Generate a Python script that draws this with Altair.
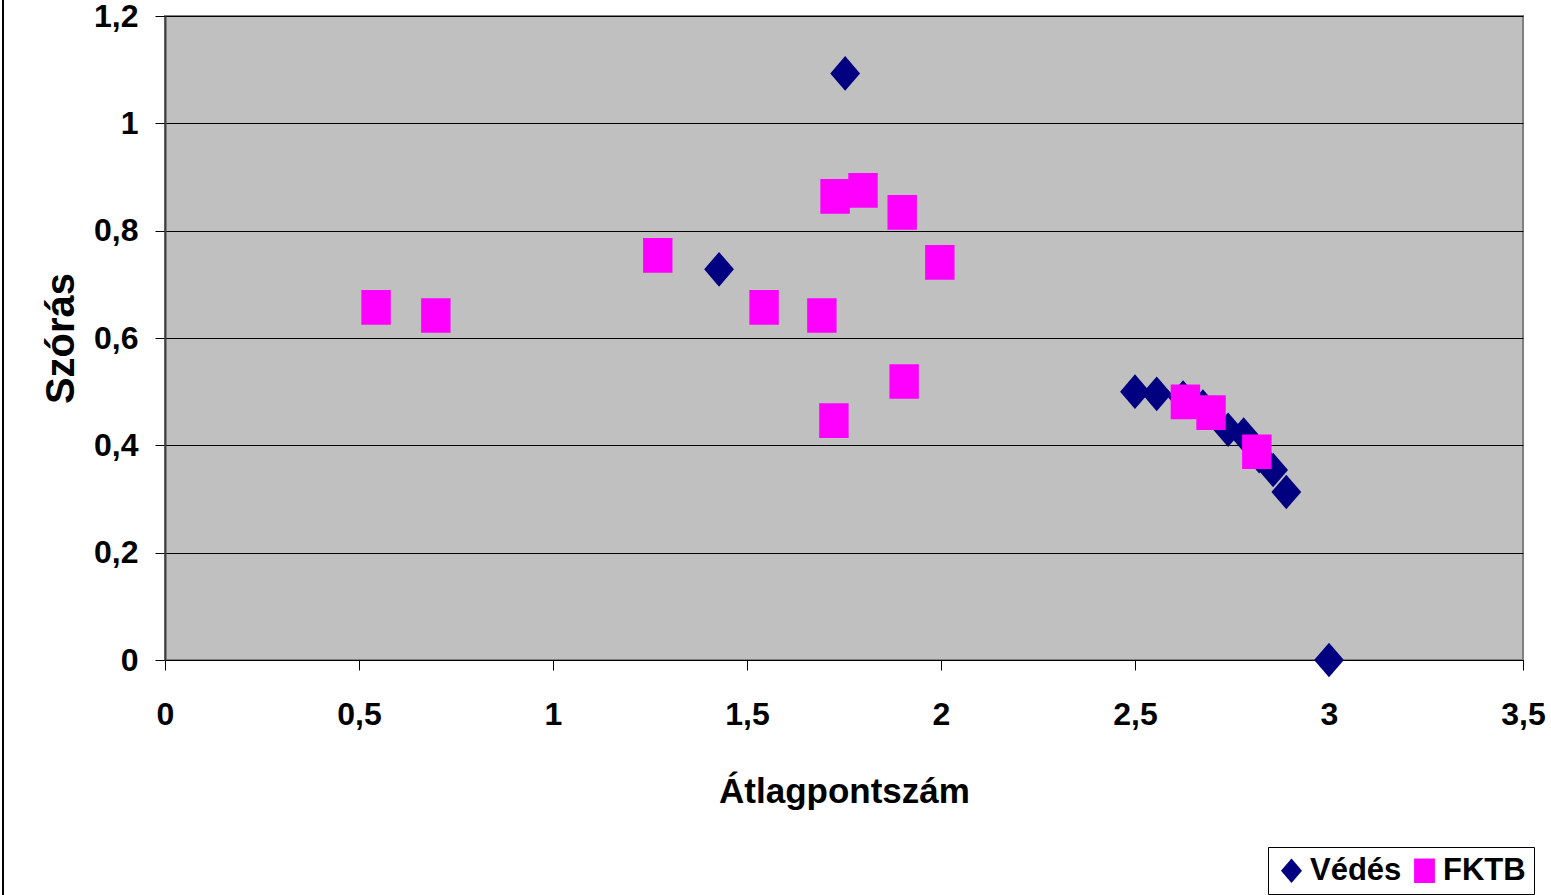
import altair as alt
import pandas as pd

# Védés series
vedes_x = [1.753, 1.428, 2.50, 2.556, 2.624, 2.675, 2.74, 2.78, 2.82, 2.856, 2.89, 3.0]
vedes_y = [1.093, 0.728, 0.50, 0.496, 0.489, 0.472, 0.429, 0.42, 0.38, 0.354, 0.313, 0.0]

# FKTB series
fktb_x = [0.544, 0.698, 1.27, 1.544, 1.693, 1.727, 1.799, 1.90, 1.997, 1.905, 1.724, 2.63, 2.696, 2.814]
fktb_y = [0.657, 0.642, 0.754, 0.657, 0.642, 0.864, 0.875, 0.834, 0.741, 0.519, 0.446, 0.481, 0.461, 0.388]

series_names = ["Védés", "FKTB"]
series_colors = ["#000080", "#FF00FF"]

x_ticks = [0, 0.5, 1, 1.5, 2, 2.5, 3, 3.5]
y_ticks = [0, 0.2, 0.4, 0.6, 0.8, 1.0, 1.2]

rows = []
for x, y in zip(vedes_x, vedes_y):
    rows.append({"x": x, "y": y, "series": series_names[0]})
for x, y in zip(fktb_x, fktb_y):
    rows.append({"x": x, "y": y, "series": series_names[1]})
df = pd.DataFrame(rows)

FONT = "Liberation Sans"
diamond_path = "M0,-1L0.86,0L0,1L-0.86,0Z"
square_path = "M-0.85,-1L0.85,-1L0.85,1L-0.85,1Z"

label_expr = "replace(toString(datum.value), '.', ',')"

points = alt.Chart(df).mark_point(filled=True, opacity=1, size=1200, strokeWidth=0).encode(
    x=alt.X("x:Q", scale=alt.Scale(domain=[0, 3.5], nice=False, zero=False),
            axis=alt.Axis(values=x_ticks, title="Átlagpontszám", grid=False,
                          labelExpr=label_expr, labelFont=FONT, labelFontSize=32,
                          labelFontWeight="bold", labelColor="black", labelPadding=29,
                          labelFlush=False, labelOverlap=False,
                          tickSize=10, tickColor="black", domainColor="black",
                          titleFont=FONT, titleFontSize=35, titleFontWeight="bold",
                          titleColor="black", titleBaseline="alphabetic", titleY=142)),
    y=alt.Y("y:Q", scale=alt.Scale(domain=[0, 1.2], nice=False, zero=False),
            axis=alt.Axis(values=y_ticks, title="Szórás", grid=True, gridColor="black",
                          gridWidth=1, labelExpr=label_expr, labelFont=FONT,
                          labelFontSize=32, labelFontWeight="bold", labelColor="black",
                          labelPadding=17, labelFlush=False, labelOverlap=False,
                          tickSize=10, tickColor="black",
                          domainColor="#404040", domainWidth=2,
                          titleFont=FONT, titleFontSize=40, titleFontWeight="bold",
                          titleColor="black", titleBaseline="alphabetic", titleX=-92)),
    color=alt.Color("series:N", scale=alt.Scale(domain=series_names, range=series_colors),
                    legend=alt.Legend(title=None, orient="none", legendX=1103, legendY=831,
                                      direction="horizontal", strokeColor="black",
                                      fillColor="white", padding=8, labelFont=FONT,
                                      labelFontSize=31, labelFontWeight="bold",
                                      labelColor="black", symbolSize=600,
                                      symbolStrokeWidth=0, columnPadding=7,
                                      labelOffset=3)),
    shape=alt.Shape("series:N", scale=alt.Scale(domain=series_names,
                                                range=[diamond_path, square_path])),
)

border = alt.Chart(df).mark_rule(color="black", strokeWidth=1.5, clip=False).encode(
    x=alt.value(-162), y=alt.value(-16), y2=alt.value(895)
)

chart = alt.layer(border, points).properties(
    width=1358, height=644,
    autosize=alt.AutoSizeParams(type="none"),
    padding={"left": 165, "top": 16, "right": 28, "bottom": 235},
    background="white",
).configure_view(
    fill="#C0C0C0", stroke="#808080", strokeWidth=2
)

chart.save("out.html", embed_options={"renderer": "svg", "actions": False})
